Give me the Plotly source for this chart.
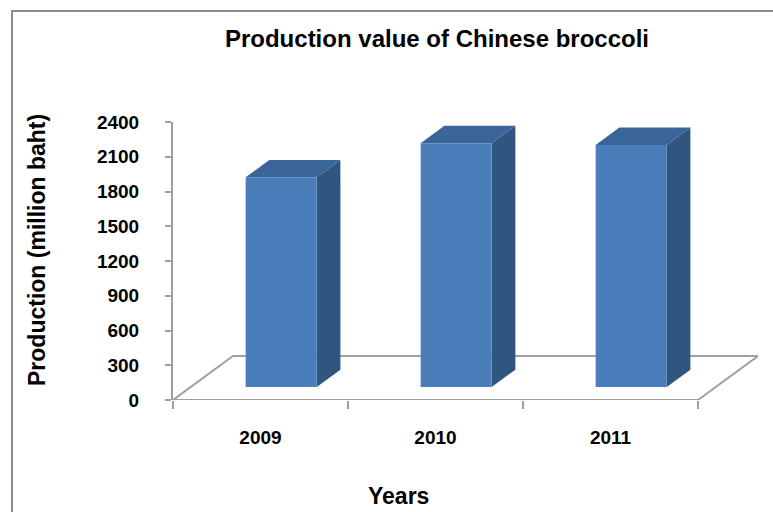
import plotly.graph_objects as go

# ---- data ----
years = ["2009", "2010", "2011"]
values = [1810, 2105, 2090]
y_ticks = [0, 300, 600, 900, 1200, 1500, 1800, 2100, 2400]

# ---- styling / geometry constants ----
FONT = "Liberation Sans, Arial, sans-serif"
W, H = 773, 512
L, R, T, B = 173, 15, 122, 112
PX_PER_CAT = 175.0
YMAX = 2400
plot_h = H - T - B
units_per_px = YMAX / plot_h
DX = 60 / PX_PER_CAT          # floor depth (x units)
DY = 44 * units_per_px        # floor depth (value units)
D_FRONT = 0.295               # depth fraction of bar front face
D_BAR = 0.395                 # bar depth fraction
BAR_OFF = 0.314
BAR_W = 0.406
FRONT_C = "#4A7EBB"
SIDE_C = "#30557F"
TOP_C = "#3A6598"
GRID_C = "#A0A0A0"
n = len(years)

fig = go.Figure()

# floor outline
fx = [0, n, n + DX, DX, 0]
fy = [0, 0, DY, DY, 0]
fig.add_trace(go.Scatter(x=fx, y=fy, mode="lines", line=dict(color=GRID_C, width=2),
                         hoverinfo="skip", showlegend=False, cliponaxis=False))

sx, sy = D_BAR * DX, D_BAR * DY
for i, v in enumerate(values):
    x0 = i + BAR_OFF + D_FRONT * DX
    x1 = x0 + BAR_W
    yb = D_FRONT * DY
    yt = yb + v
    # side
    fig.add_trace(go.Scatter(x=[x1, x1 + sx, x1 + sx, x1, x1], y=[yb, yb + sy, yt + sy, yt, yb],
                             fill="toself", fillcolor=SIDE_C, mode="lines", line=dict(width=0, color=SIDE_C),
                             hoverinfo="skip", showlegend=False, cliponaxis=False))
    # top
    fig.add_trace(go.Scatter(x=[x0, x1, x1 + sx, x0 + sx, x0], y=[yt, yt, yt + sy, yt + sy, yt],
                             fill="toself", fillcolor=TOP_C, mode="lines", line=dict(width=0, color=TOP_C),
                             hoverinfo="skip", showlegend=False, cliponaxis=False))
    # front
    fig.add_trace(go.Scatter(x=[x0, x1, x1, x0, x0], y=[yb, yb, yt, yt, yb],
                             fill="toself", fillcolor=FRONT_C, mode="lines", line=dict(width=0, color=FRONT_C),
                             name=years[i], hovertemplate=f"{years[i]}: {v}<extra></extra>",
                             showlegend=False, cliponaxis=False))

fig.update_layout(
    width=W, height=H,
    margin=dict(l=L, r=R, t=T, b=B),
    paper_bgcolor="white", plot_bgcolor="white",
    showlegend=False,
    title=dict(text="Production value of Chinese broccoli", xref="container", x=437 / W,
               yref="container", y=1 - 39 / H, xanchor="center", yanchor="middle",
               font=dict(family=FONT, size=24, color="black", weight="bold")),
    xaxis=dict(range=[0, n + DX], showgrid=False, zeroline=False, showline=False,
               tickvals=[i + 0.5 for i in range(n)], ticktext=years, ticks="",
               ticklabelstandoff=24,
               tickfont=dict(family=FONT, size=19, color="black", weight="bold"),
               minor=dict(tickvals=list(range(n + 1)), ticks="outside", ticklen=8,
                          tickwidth=2, tickcolor=GRID_C, showgrid=False),
               fixedrange=True),
    yaxis=dict(range=[0, YMAX], tickvals=y_ticks, showgrid=False, zeroline=False,
               showline=True, linecolor=GRID_C, linewidth=2,
               ticks="outside", ticklen=6, tickwidth=2, tickcolor=GRID_C,
               ticklabelstandoff=22,
               tickfont=dict(family=FONT, size=19, color="black", weight="bold"),
               fixedrange=True),
    annotations=[
        dict(text="Production (million baht)", xref="paper", yref="paper",
             x=(37 - L) / (W - L - R), y=(H - B - 250) / plot_h, textangle=-90,
             showarrow=False, xanchor="center", yanchor="middle",
             font=dict(family=FONT, size=23, color="black", weight="bold")),
        dict(text="Years", xref="paper", yref="paper",
             x=(398 - L) / (W - L - R), y=(H - B - 496) / plot_h,
             showarrow=False, xanchor="center", yanchor="middle",
             font=dict(family=FONT, size=23, color="black", weight="bold")),
    ],
    shapes=[
        dict(type="rect", xref="paper", yref="paper",
             x0=(12 - L) / (W - L - R), x1=1.2, y0=-0.6, y1=(H - B - 11) / plot_h,
             line=dict(color="#8C8C8C", width=2), fillcolor="rgba(0,0,0,0)", layer="below"),
    ],
)

fig.write_html("out.html")
